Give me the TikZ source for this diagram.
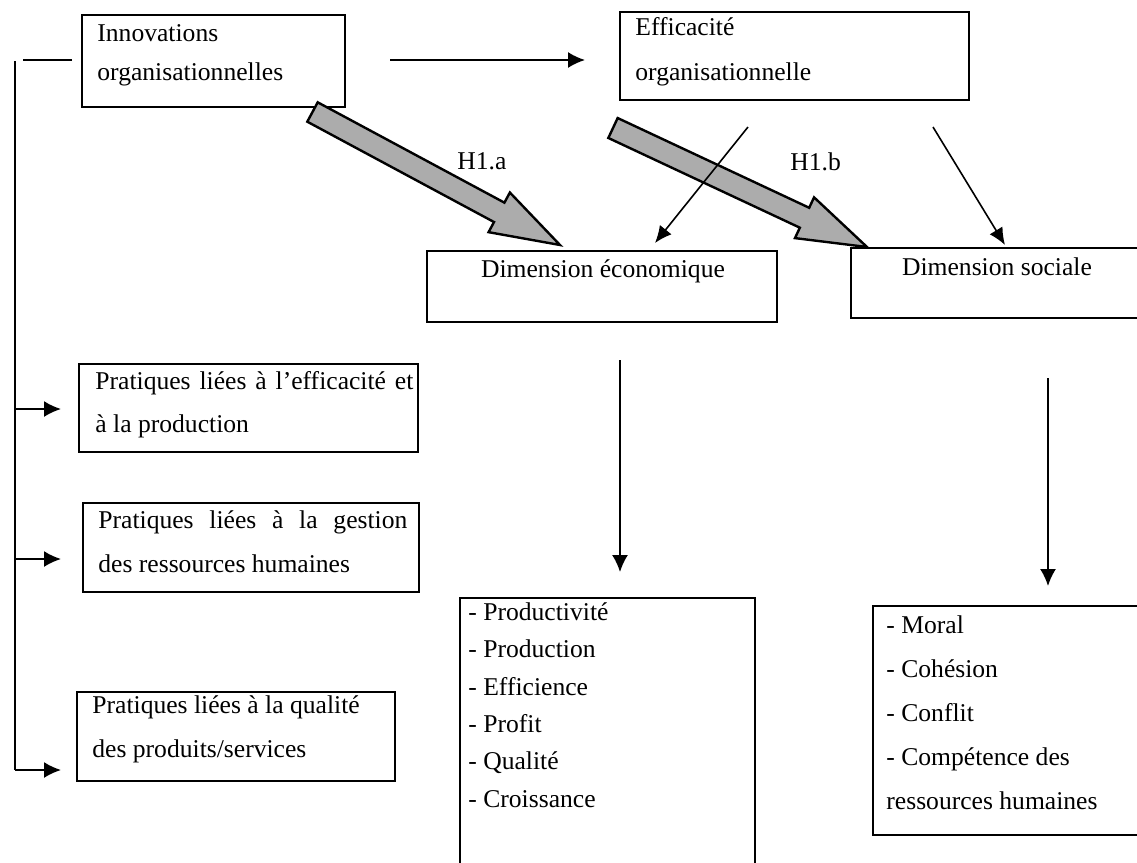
\documentclass[tikz,border=0pt]{standalone}
\usepackage{fontspec}
\setmainfont{Liberation Serif}
\usetikzlibrary{arrows.meta,calc,fit}
\newcommand\grayarr[2]{%
  \coordinate (gbase) at ($(#2)!34.5pt!(#1)$);
  \draw[grayarrow] ($(#1)!5.5pt!90:(#2)$) -- ($(gbase)!5.5pt!-90:(#1)$)
    -- ($(gbase)!11.25pt!-90:(#1)$) -- (#2) -- ($(gbase)!11.25pt!90:(#1)$)
    -- ($(gbase)!5.5pt!90:(#1)$) -- ($(#1)!5.5pt!-90:(#2)$) -- cycle;}
\begin{document}
\begin{tikzpicture}[x=0.5pt,y=-0.5pt,
  box/.style={draw, line width=0.75pt, inner sep=0pt},
  txt/.style={anchor=base west, inner sep=0pt, font=\fontsize{12.8}{15}\selectfont},
  ctxt/.style={anchor=base, inner sep=0pt, font=\fontsize{12.8}{15}\selectfont},
  arr/.style={line width=0.9pt, -{Latex[length=8.5pt,width=8pt]}},
  thinarr/.style={line width=0.8pt, -{Latex[length=8.5pt,width=7.5pt]}},
  plain/.style={line width=0.9pt},
  grayarrow/.style={draw, line width=1.2pt, fill=gray!65, line join=miter}]
\useasboundingbox (0,0) rectangle (1137,863);
\clip (0,0) rectangle (1137,863);
\fill[white] (0,0) rectangle (1137,863);

% boxes
\node[box, fit={(82,15) (345,107)}] (innov) {};
\node[box, fit={(620,12) (969,100)}] (effic) {};
\node[box, fit={(427,251) (777,322)}] (deco) {};
\node[box, fit={(851,248) (1145,318)}] (dsoc) {};
\node[box, fit={(79,364) (418,452)}] (prat1) {};
\node[box, fit={(83,503) (419,592)}] (prat2) {};
\node[box, fit={(77,692) (395,781)}] (prat3) {};
\node[box, fit={(460,598) (755,880)}] (ecol) {};
\node[box, fit={(873,606) (1145,835)}] (socl) {};

% texts
\node[txt] (t1) at (97,41) {Innovations};
\node[txt] (t2) at (97,80) {organisationnelles};
\node[txt] (t3) at (635,35) {Efficacité};
\node[txt] (t4) at (635,80) {organisationnelle};
\node[ctxt] (t5) at (603,277) {Dimension économique};
\node[ctxt] (t6) at (997,275) {Dimension sociale};
\node[txt] (h1a) at (457,169) {H1.a};
\node[txt] (h1b) at (790,170) {H1.b};
\node[txt] (p1a) at (95,389) {\makebox[159pt][s]{Pratiques liées à l’efficacité et}};
\node[txt] (p1b) at (95,432) {à la production};
\node[txt] (p2a) at (98,528) {\makebox[154.5pt][s]{Pratiques liées à la gestion}};
\node[txt] (p2b) at (98,572) {des ressources humaines};
\node[txt] (p3a) at (92,713) {Pratiques liées à la qualité};
\node[txt] (p3b) at (92,757) {des produits/services};
\node[txt] (e1) at (468,620) {- Productivité};
\node[txt] (e2) at (468,657) {- Production};
\node[txt] (e3) at (468,695) {- Efficience};
\node[txt] (e4) at (468,732) {- Profit};
\node[txt] (e5) at (468,769) {- Qualité};
\node[txt] (e6) at (468,807) {- Croissance};
\node[txt] (s1) at (886,633) {- Moral};
\node[txt] (s2) at (886,677) {- Cohésion};
\node[txt] (s3) at (886,721) {- Conflit};
\node[txt] (s4) at (886,765) {- Compétence des};
\node[txt] (s5) at (886,809) {ressources humaines};

% connector end points
\coordinate (ieS) at (390,60);
\coordinate (ieE) at (585,60);
\coordinate (ga1) at (312.5,112);
\coordinate (ga2) at (560,245);
\coordinate (gb1) at (613,128);
\coordinate (gb2) at (867,247);
\coordinate (te1) at (748,127);
\coordinate (te2) at (655,243);
\coordinate (ts1) at (933,127);
\coordinate (ts2) at (1005,245);
\coordinate (de1) at (620,360);
\coordinate (de2) at (620,572);
\coordinate (ds1) at (1048,378);
\coordinate (ds2) at (1048,586);
\coordinate (brA) at (72,60);
\coordinate (brB) at (23,60);
\coordinate (brT) at (15,61);
\coordinate (brM1) at (15,409);
\coordinate (brM2) at (15,559);
\coordinate (brBot) at (15,770);
\coordinate (bp1) at (61,409);
\coordinate (bp2) at (61,559);
\coordinate (bp3) at (61,770);

% connectors
\draw[arr] (ieS) -- (ieE);
\grayarr{ga1}{ga2}
\grayarr{gb1}{gb2}
\draw[thinarr] (te1) -- (te2);
\draw[thinarr] (ts1) -- (ts2);
\draw[arr] (de1) -- (de2);
\draw[arr] (ds1) -- (ds2);
\draw[plain] (brA) -- (brB);
\draw[plain] (brT) -- (brBot);
\draw[arr] (brM1) -- (bp1);
\draw[arr] (brM2) -- (bp2);
\draw[arr] (brBot) -- (bp3);
\end{tikzpicture}
\end{document}
